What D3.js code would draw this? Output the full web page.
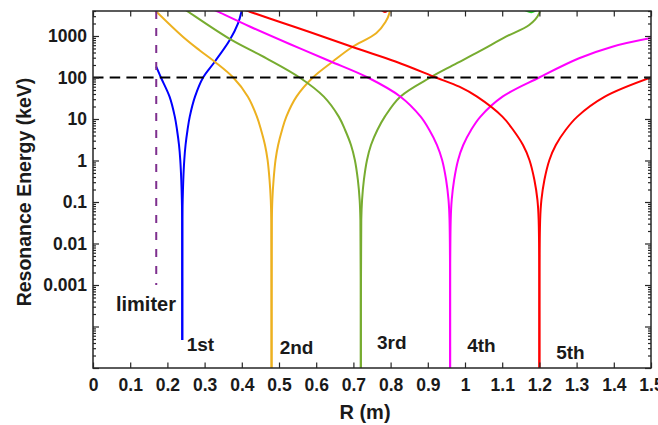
<!DOCTYPE html>
<html><head><meta charset="utf-8">
<script src="https://cdn.jsdelivr.net/npm/d3@7"></script>
<style>
body{margin:0;background:#fff}
svg{display:block}
text{font-family:Arial,"Liberation Sans",sans-serif;font-weight:bold;fill:#1a1a1a}
</style>
</head><body>
<svg id="chart" width="658" height="425"></svg>
<script>
// ---------------- data (R in m, resonance energy in keV) ----------------
const harmonicNames = ["1st", "2nd", "3rd", "4th", "5th"];
const harmonicColors = ["#0000ff", "#edb120", "#77ac30", "#ff00ff", "#ff0000"];

const harmonic1 = [[0.170,182],[0.1826,100],[0.2058,34.5],[0.2199,11.4],[0.2259,5.43],[0.2312,2.36],[0.2346,1.03],[0.2373,0.339],[0.2389,0.112],[0.2396,0.0368],[0.24,4.7e-5],
  [0.2404,0.0368],[0.2411,0.112],[0.2427,0.339],[0.2454,1.03],[0.2488,2.36],[0.2541,5.43],[0.2601,11.4],[0.2742,34.5],[0.2960,100],[0.3273,240],[0.3676,801],[0.3899,2023],[0.3990,3850],[0.4003,4500]];
const harmonic2 = [[0.165,4300],[0.2423,946],[0.2871,448],[0.3273,240],[0.377,100],[0.4164,34.5],[0.4406,11.4],[0.4518,5.43],[0.4623,2.36],[0.4693,1.03],[0.4746,0.339],[0.4779,0.112],[0.4792,0.0368],[0.48,1e-6],
  [0.4808,0.0368],[0.4821,0.112],[0.4854,0.339],[0.4907,1.03],[0.4977,2.36],[0.5082,5.43],[0.5198,11.4],[0.547,34.5],[0.5911,100],[0.6448,243],[0.695,528],[0.7612,1161],[0.7862,2173],[0.7969,3580],[0.7975,4500]];
const harmonic3 = [[0.2477,4300],[0.2557,3850],[0.3722,801],[0.4661,290],[0.5554,100],[0.6205,34.5],[0.6606,11.4],[0.6777,5.43],[0.6935,2.36],[0.7039,1.03],[0.712,0.339],[0.7168,0.112],[0.7188,0.0368],[0.72,1e-6],
  [0.7212,0.0368],[0.7233,0.112],[0.7282,0.339],[0.7366,1.03],[0.7473,2.36],[0.7644,5.43],[0.7845,11.4],[0.826,34.5],[0.9069,100],[0.9667,195],[1.0384,424],[1.110,962],[1.1725,1841],[1.1994,3525],[1.2005,4500]];
const harmonic4 = [[0.3247,4300],[0.3362,3850],[0.4213,1694],[0.5286,641],[0.6359,250],[0.7387,100],[0.8266,34.5],[0.8808,11.4],[0.9042,5.43],[0.9247,2.36],[0.9385,1.03],[0.9493,0.339],[0.9557,0.112],[0.9584,0.0368],[0.96,1e-6],
  [0.9616,0.0368],[0.9643,0.112],[0.9707,0.339],[0.9815,1.03],[0.9953,2.36],[1.0164,5.43],[1.0416,11.4],[1.1009,34.5],[1.1994,100],[1.3067,290],[1.396,552],[1.5,890]];
const harmonic5 = [[0.4054,4300],[0.4213,3850],[0.5106,2055],[0.5823,1249],[0.7075,505],[0.8149,240],[0.922,100],[0.9847,60],[1.0324,34.5],[1.1005,11.4],[1.1296,5.43],[1.1559,2.36],[1.1732,1.03],[1.1866,0.339],[1.1947,0.112],[1.198,0.0368],[1.2,1e-6],
  [1.202,0.0368],[1.2054,0.112],[1.2134,0.339],[1.2269,1.03],[1.2442,2.36],[1.2705,5.43],[1.302,11.4],[1.376,34.5],[1.5,100]];
const harmonics = [harmonic1, harmonic2, harmonic3, harmonic4, harmonic5];

// small fragments touching the top edge
const topRedFragment = [[0.772,4500],[0.785,3800],[0.796,4500]];
const topGreenFragment = [[1.155,4500],[1.178,3750],[1.198,4500]];

const thresholdEnergy = 100;        // horizontal dashed line
const limiterR = 0.17;              // limiter position
const limiterEnergyRange = [0.001, 4000];

// label anchors (R, E)
const harmonicLabelR = [0.252, 0.5017, 0.7633, 1.006, 1.245];
const harmonicLabelE = [3.6e-5, 3.2e-5, 4.2e-5, 3.4e-5, 2.3e-5];
const limiterLabel = {text: "limiter", R: 0.0617, E: 3.5e-4};

const xTicks = [0,0.1,0.2,0.3,0.4,0.5,0.6,0.7,0.8,0.9,1,1.1,1.2,1.3,1.4,1.5];
const xTickLabels = ["0","0.1","0.2","0.3","0.4","0.5","0.6","0.7","0.8","0.9","1","1.1","1.2","1.3","1.4","1.5"];
const yMajorTicks = [1e-5,1e-4,1e-3,1e-2,1e-1,1,10,100,1000];
const yTickLabels = {"0.001":"0.001","0.01":"0.01","0.1":"0.1","1":"1","10":"10","100":"100","1000":"1000"};
const xDomain = [0, 1.5];
const yDomain = [1e-5, 4000];

// ---------------- layout ----------------
const L = 93, R = 651, T = 11, B = 368;
const svg = d3.select("#chart");
svg.append("rect").attr("width", 658).attr("height", 425).attr("fill", "#fff");

const x = d3.scaleLinear().domain(xDomain).range([L, R]);
const y = d3.scaleLog().domain(yDomain).range([B, T]);

svg.append("clipPath").attr("id", "clip").append("rect")
  .attr("x", L).attr("y", T).attr("width", R - L).attr("height", B - T);

const plot = svg.append("g").attr("clip-path", "url(#clip)");

const line = d3.line().x(d => x(d[0])).y(d => y(d[1])).curve(d3.curveCatmullRom.alpha(0.5));

harmonics.forEach((h, i) => {
  let mi = 0;
  h.forEach((d, j) => { if (d[1] < h[mi][1]) mi = j; });
  const left = h.slice(0, mi + 1), right = h.slice(mi);
  [left, right].forEach(part => {
    plot.append("path").datum(part).attr("d", line)
      .attr("fill", "none").attr("stroke", harmonicColors[i]).attr("stroke-width", 2);
  });
});
plot.append("path").datum(topRedFragment).attr("d", line).attr("fill","none").attr("stroke","#ff0000").attr("stroke-width",2);
plot.append("path").datum(topGreenFragment).attr("d", line).attr("fill","none").attr("stroke","#22dd22").attr("stroke-width",2);

// threshold line
plot.append("line").attr("x1", x(xDomain[0])).attr("x2", x(xDomain[1]))
  .attr("y1", y(thresholdEnergy)).attr("y2", y(thresholdEnergy))
  .attr("stroke", "#000").attr("stroke-width", 2).attr("stroke-dasharray", "10.5,6.2");

// limiter
plot.append("line").attr("x1", x(limiterR)).attr("x2", x(limiterR))
  .attr("y1", y(limiterEnergyRange[1])).attr("y2", y(limiterEnergyRange[0]))
  .attr("stroke", "#7e2f8e").attr("stroke-width", 2).attr("stroke-dasharray", "8,9");

// ---------------- axes ----------------
const axisColor = "#262626";
function styleAxis(g) {
  g.select(".domain").remove();
  g.selectAll("line").attr("stroke", axisColor).attr("stroke-width", 1.2);
  g.selectAll("text").attr("font-size", 17.5).attr("fill", "#1a1a1a")
    .attr("font-family", 'Arial,"Liberation Sans",sans-serif').attr("font-weight", "bold");
}
const yMinor = [];
for (let e = -5; e <= 3; e++) for (let k = 2; k <= 9; k++) { const v = k * Math.pow(10, e); if (v <= yDomain[1]) yMinor.push(v); }

svg.append("g").attr("transform", `translate(0,${B})`)
  .call(d3.axisBottom(x).tickValues(xTicks).tickSize(-5.5).tickPadding(11).tickFormat((d, i) => xTickLabels[i]))
  .call(styleAxis);
svg.append("g").attr("transform", `translate(0,${T})`)
  .call(d3.axisTop(x).tickValues(xTicks).tickSize(-5.5).tickFormat(""))
  .call(styleAxis);
svg.append("g").attr("transform", `translate(${L},0)`)
  .call(d3.axisLeft(y).tickValues(yMajorTicks).tickSize(-6).tickPadding(6).tickFormat(d => yTickLabels[String(+d.toPrecision(3))] || ""))
  .call(styleAxis);
svg.append("g").attr("transform", `translate(${L},0)`)
  .call(d3.axisLeft(y).tickValues(yMinor).tickSize(-3).tickFormat(""))
  .call(styleAxis);
svg.append("g").attr("transform", `translate(${R},0)`)
  .call(d3.axisRight(y).tickValues(yMajorTicks).tickSize(-6).tickFormat(""))
  .call(styleAxis);
svg.append("g").attr("transform", `translate(${R},0)`)
  .call(d3.axisRight(y).tickValues(yMinor).tickSize(-3).tickFormat(""))
  .call(styleAxis);

svg.append("rect").attr("x", L).attr("y", T).attr("width", R - L).attr("height", B - T)
  .attr("fill", "none").attr("stroke", axisColor).attr("stroke-width", 1.5);

// ---------------- text ----------------
svg.append("text").attr("x", 365).attr("y", 412).attr("text-anchor", "middle")
  .attr("dominant-baseline", "central").attr("font-size", 20).text("R (m)");
svg.append("text").attr("transform", "translate(24,192) rotate(-90)").attr("text-anchor", "middle")
  .attr("dominant-baseline", "central").attr("font-size", 19.5).text("Resonance Energy (keV)");

harmonicNames.forEach((n, i) => {
  svg.append("text").attr("x", x(harmonicLabelR[i])).attr("y", y(harmonicLabelE[i]))
    .attr("dominant-baseline", "central").attr("font-size", 19).text(n);
});
svg.append("text").attr("x", x(limiterLabel.R)).attr("y", y(limiterLabel.E))
  .attr("dominant-baseline", "central").attr("font-size", 20).text(limiterLabel.text);
</script>
</body></html>
